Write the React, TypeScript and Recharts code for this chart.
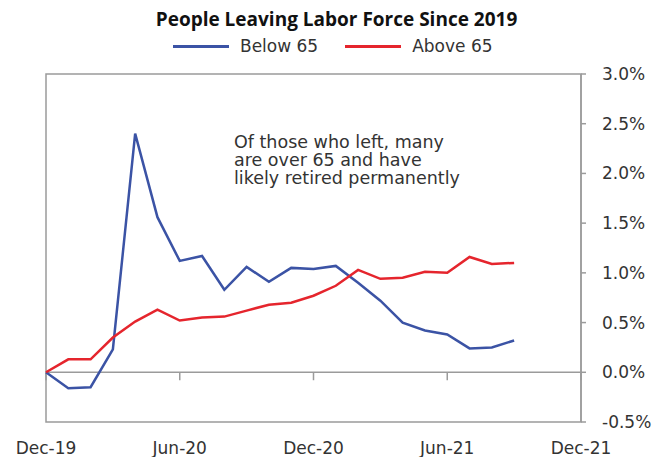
import { Line, LineChart, ReferenceArea, ReferenceLine, XAxis, YAxis } from "recharts";

// Monthly, Dec-19 through Sep-21 (percentage points vs. 2019)
const months = [
  "Dec-19", "Jan-20", "Feb-20", "Mar-20", "Apr-20", "May-20", "Jun-20", "Jul-20",
  "Aug-20", "Sep-20", "Oct-20", "Nov-20", "Dec-20", "Jan-21", "Feb-21", "Mar-21",
  "Apr-21", "May-21", "Jun-21", "Jul-21", "Aug-21", "Sep-21",
];
const below65 = [
  0, -0.16, -0.15, 0.23, 2.4, 1.56, 1.12, 1.17, 0.83, 1.06, 0.91, 1.05, 1.04, 1.07,
  0.9, 0.72, 0.5, 0.42, 0.38, 0.24, 0.25, 0.32,
];
const above65 = [
  0, 0.13, 0.13, 0.35, 0.51, 0.63, 0.52, 0.55, 0.56, 0.62, 0.68, 0.7, 0.77, 0.87,
  1.03, 0.94, 0.95, 1.01, 1.0, 1.16, 1.09, 1.1,
];
const xTicks = [0, 6, 12, 18, 24];
const xTickLabels = ["Dec-19", "Jun-20", "Dec-20", "Jun-21", "Dec-21"];
const yTicks = [-0.5, 0, 0.5, 1, 1.5, 2, 2.5, 3];
const noteLines = ["Of those who left, many", "are over 65 and have", "likely retired permanently"];

const BLUE = "#3b53a5";
const RED = "#e5252d";
const GRID = "#9b9b9b";
const INK = "#333";
const FONT = "'DejaVu Sans', sans-serif";

const data = months.map((m, i) => ({ i, month: m, below: below65[i], above: above65[i] }));

function LegendBox() {
  const items = [
    { label: "Below 65", color: BLUE },
    { label: "Above 65", color: RED },
  ];
  return (
    <div
      style={{
        position: "absolute",
        top: 38,
        left: 173,
        display: "flex",
        alignItems: "center",
        fontFamily: FONT,
        fontSize: 17,
        lineHeight: "17px",
        color: INK,
        whiteSpace: "nowrap",
      }}
    >
      {items.map((it, k) => (
        <div key={it.label} style={{ display: "flex", alignItems: "center", marginLeft: k ? 27 : 0 }}>
          <span style={{ width: 56, height: 3, background: it.color, display: "inline-block", marginRight: 11 }} />
          <span>{it.label}</span>
        </div>
      ))}
    </div>
  );
}

export default function App() {
  return (
    <div style={{ position: "absolute", left: 0, top: 0, width: 669, height: 457, background: "#fff" }}>
      <div
        style={{
          position: "absolute",
          top: 10,
          left: 0,
          width: 669,
          textAlign: "center",
          fontFamily: "'Open Sans', sans-serif",
          fontWeight: 700,
          fontSize: 19,
          lineHeight: "19px",
          color: "#111",
          paddingLeft: 2,
          whiteSpace: "nowrap",
        }}
      >
        People Leaving Labor Force Since 2019
      </div>
      <LegendBox />
      <LineChart width={669} height={457} data={data} margin={{ top: 74, right: 0, bottom: 0, left: 46 }}>
        <XAxis
          dataKey="i"
          type="number"
          domain={[0, 24]}
          ticks={xTicks}
          tickFormatter={(v: number) => xTickLabels[xTicks.indexOf(v)] ?? ""}
          axisLine={false}
          tickLine={false}
          tickSize={6}
          tickMargin={14}
          height={35}
          tick={{ fill: INK, fontSize: 17, fontFamily: FONT }}
        />
        <YAxis
          orientation="right"
          domain={[-0.5, 3]}
          ticks={yTicks}
          tickFormatter={(v: number) => `${v.toFixed(1)}%`}
          width={88}
          tickSize={5}
          tickMargin={16}
          axisLine={{ stroke: GRID, strokeWidth: 1.5 }}
          tickLine={{ stroke: GRID, strokeWidth: 1.5 }}
          tick={{ fill: INK, fontSize: 17, fontFamily: FONT, textAnchor: "start" }}
        />
        <ReferenceArea x1={0} x2={24} y1={-0.5} y2={3} fill="none" stroke={GRID} strokeWidth={1.5} />
        <ReferenceLine y={0} stroke={GRID} strokeWidth={1.5} />
        {xTicks.map((t) => (
          <ReferenceLine
            key={t}
            segment={[{ x: t, y: 0 }, { x: t, y: -0.08 }]}
            stroke={GRID}
            strokeWidth={1.5}
          />
        ))}
        <Line dataKey="below" stroke={BLUE} strokeWidth={2.5} dot={false} isAnimationActive={false} />
        <Line dataKey="above" stroke={RED} strokeWidth={2.5} dot={false} isAnimationActive={false} />
      </LineChart>
      {noteLines.map((t, k) => (
        <div
          key={t}
          style={{
            position: "absolute",
            left: 234,
            top: 133 + k * 18,
            fontFamily: FONT,
            fontSize: 17.5,
            lineHeight: "18px",
            color: INK,
            whiteSpace: "nowrap",
          }}
        >
          {t}
        </div>
      ))}
    </div>
  );
}
